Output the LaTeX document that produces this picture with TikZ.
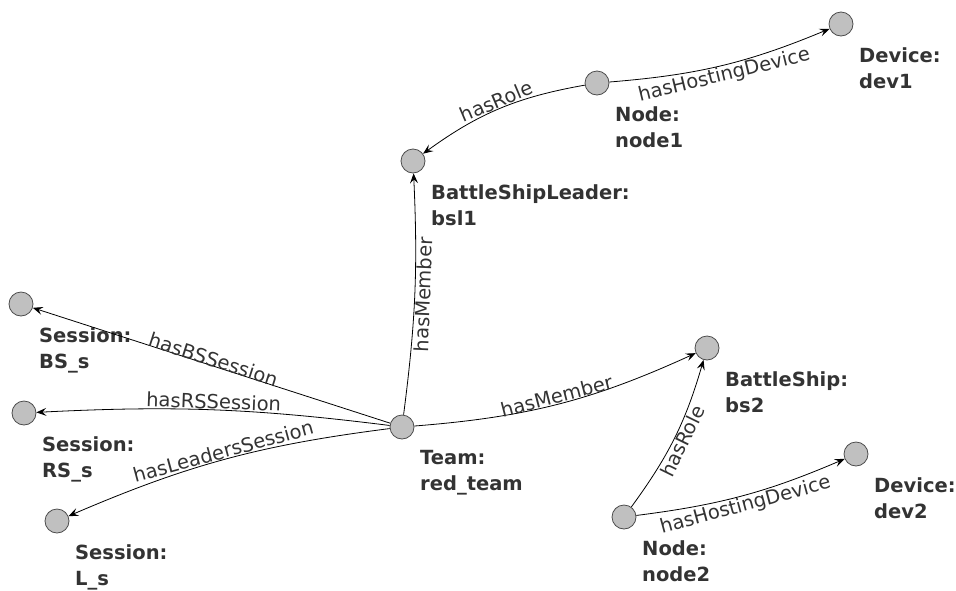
\documentclass[tikz,border=0pt]{standalone}
\usepackage{fontspec}
\setmainfont{DejaVu Sans}
\usetikzlibrary{positioning}
\usetikzlibrary{arrows.meta}

\definecolor{entgray}{HTML}{C0C0C0}
\definecolor{txtgray}{HTML}{333333}

\begin{document}
\begin{tikzpicture}[x=1pt,y=-1pt,
    ent/.style={circle,draw=black!70,fill=entgray,minimum size=24pt,inner sep=0pt,line width=0.8pt},
    lbl/.style={anchor=north west,xshift=18pt,yshift=-23pt,align=left,inner sep=0pt,text=txtgray,
      font=\fontsize{19.5}{26}\selectfont\bfseries},
    rel/.style={-{Stealth[length=10pt,width=8pt,inset=4pt]},line width=0.8pt},
    rlbl/.style={sloped,inner sep=0.5pt,text=txtgray,font=\fontsize{19.5}{22}\selectfont}]
    \useasboundingbox (0,0) rectangle (956,590);

    % individuals
    \node[ent] (dev1) at (841,24) {};
    \node[ent] (node1) at (597,83) {};
    \node[ent] (bsl1) at (413,161) {};
    \node[ent] (bssess) at (21,304) {};
    \node[ent] (rssess) at (24,413) {};
    \node[ent] (lsess) at (57,521) {};
    \node[ent] (team) at (402,427) {};
    \node[ent] (bs2) at (707,348) {};
    \node[ent] (dev2) at (856,454) {};
    \node[ent] (node2) at (624,517) {};

    % their names
    \node[lbl] (dev1l) at (dev1) {Device:\\dev1};
    \node[lbl] (node1l) at (node1) {Node:\\node1};
    \node[lbl] (bsl1l) at (bsl1) {BattleShipLeader:\\bsl1};
    \node[lbl] (bssessl) at (bssess) {Session:\\BS\_s};
    \node[lbl] (rssessl) at (rssess) {Session:\\RS\_s};
    \node[lbl] (lsessl) at (lsess) {Session:\\L\_s};
    \node[lbl] (teaml) at (team) {Team:\\red\_team};
    \node[lbl] (bs2l) at (bs2) {BattleShip:\\bs2};
    \node[lbl] (dev2l) at (dev2) {Device:\\dev2};
    \node[lbl] (node2l) at (node2) {Node:\\node2};

    % relations
    \draw[rel] (node1) to[bend right=9] node[rlbl,below] {hasHostingDevice} (dev1);
    \draw[rel] (node1) to[bend right=13] node[rlbl,above] {hasRole} (bsl1);
    \draw[rel] (team) to[bend right=5] node[rlbl,below] {hasMember} (bsl1);
    \draw[rel] (team) to[bend right=10] node[rlbl,above] {hasMember} (bs2);
    \draw[rel] (team) -- node[rlbl,above=-2pt] {hasBSSession} (bssess);
    \draw[rel] (team) to[bend right=5] node[rlbl,above] {hasRSSession} (rssess);
    \draw[rel] (team) to[bend right=8] node[rlbl,above] {hasLeadersSession} (lsess);
    \draw[rel] (node2) to[bend right=10] node[rlbl,below] {hasRole} (bs2);
    \draw[rel] (node2) to[bend right=8] node[rlbl,below] {hasHostingDevice} (dev2);
  \end{tikzpicture}
\end{document}
